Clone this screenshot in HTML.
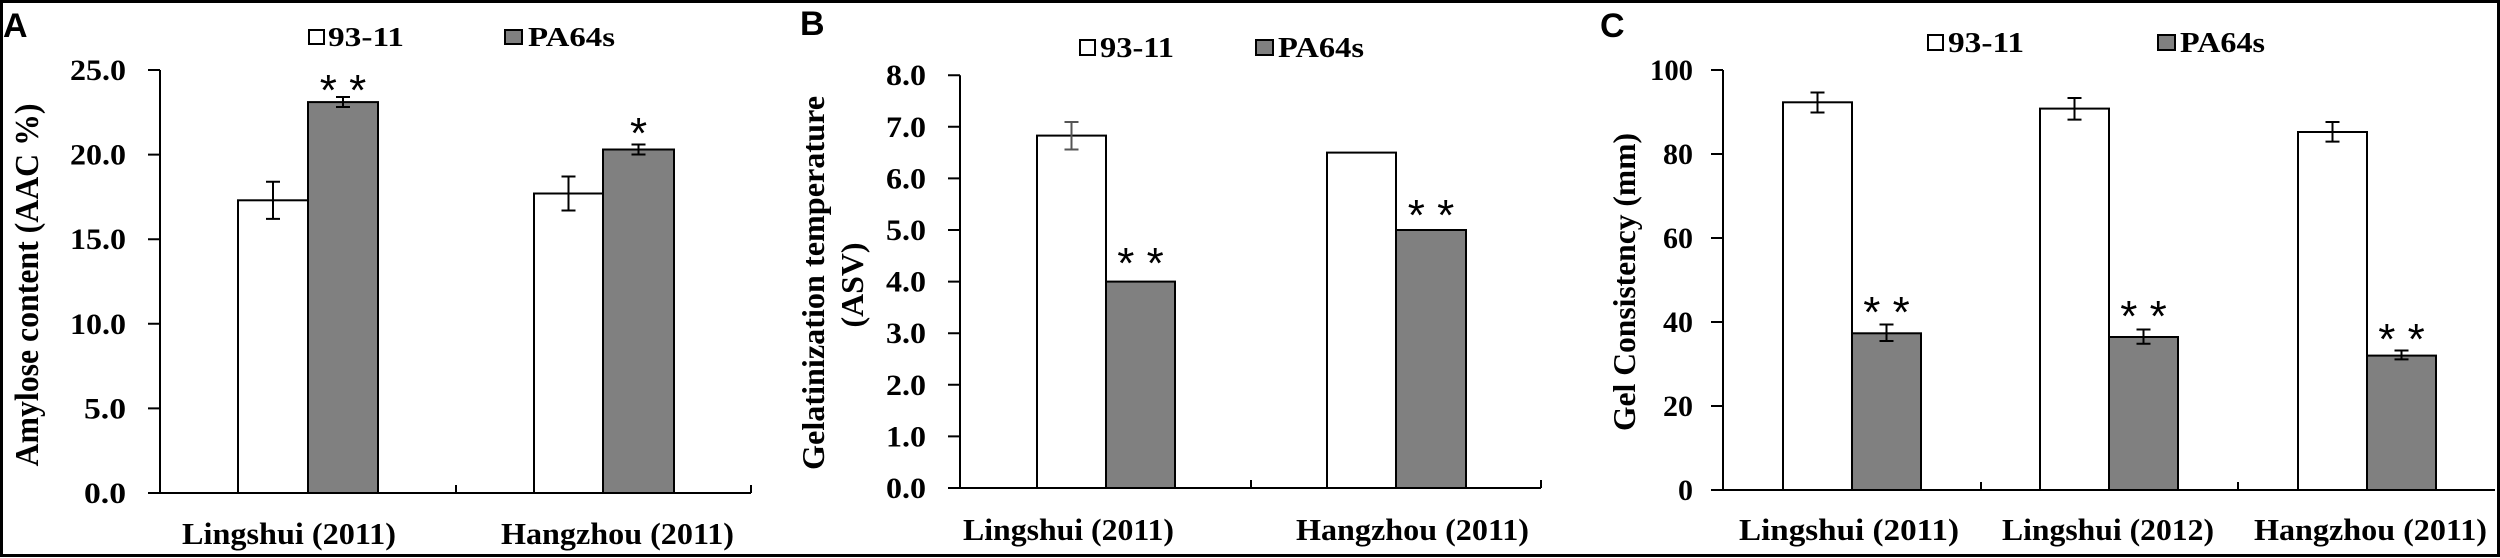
<!DOCTYPE html>
<html><head><meta charset="utf-8"><style>
html,body{margin:0;padding:0;background:#fff;}
svg{display:block;}
.t{font-family:"Liberation Serif",serif;font-weight:bold;fill:#000;}
.s{font-family:"Liberation Sans",sans-serif;font-weight:bold;fill:#000;}
.a{font-family:"Liberation Sans",sans-serif;fill:#000;font-size:44px;}
</style></head><body>
<svg width="2500" height="558" viewBox="0 0 2500 558" xmlns="http://www.w3.org/2000/svg">
<rect x="1.5" y="1.5" width="2497" height="554" fill="#fff" stroke="#000" stroke-width="3"/>

<!-- Panel A -->
<text class="s" x="3" y="37" font-size="34">A</text>
<rect x="309" y="30" width="15" height="14" fill="#fff" stroke="#000" stroke-width="2"/>
<text class="t" x="328" y="46" font-size="27" textLength="76" lengthAdjust="spacingAndGlyphs">93-11</text>
<rect x="505" y="30" width="17" height="14" fill="#808080" stroke="#000" stroke-width="2"/>
<text class="t" x="528" y="46" font-size="27" textLength="87" lengthAdjust="spacingAndGlyphs">PA64s</text>
<text class="t" transform="translate(38,285) rotate(-90)" text-anchor="middle" font-size="34" textLength="363" lengthAdjust="spacingAndGlyphs">Amylose content (AAC %)</text>
<g stroke="#000" stroke-width="2" fill="none">
<path d="M160 70 V493 H751 M148 70 H160 M148 154.6 H160 M148 239.2 H160 M148 323.8 H160 M148 408.4 H160 M148 493 H160 M456 493 V485 M751 493 V485"/>
</g>
<g class="t" font-size="30" text-anchor="end">
<text x="126" y="80" textLength="56" lengthAdjust="spacingAndGlyphs">25.0</text>
<text x="126" y="164.6" textLength="56" lengthAdjust="spacingAndGlyphs">20.0</text>
<text x="126" y="249.2" textLength="56" lengthAdjust="spacingAndGlyphs">15.0</text>
<text x="126" y="333.8" textLength="56" lengthAdjust="spacingAndGlyphs">10.0</text>
<text x="126" y="418.4" textLength="42" lengthAdjust="spacingAndGlyphs">5.0</text>
<text x="126" y="503" textLength="42" lengthAdjust="spacingAndGlyphs">0.0</text>
</g>
<g stroke="#000" stroke-width="2">
<rect x="238" y="200.3" width="70" height="292.7" fill="#fff"/>
<rect x="308" y="102.1" width="70" height="390.9" fill="#808080"/>
<rect x="534" y="193.5" width="69" height="299.5" fill="#fff"/>
<rect x="603" y="149.5" width="71" height="343.5" fill="#808080"/>
<path fill="none" d="M273 181.7 V218.9 M266 181.7 H280 M266 218.9 H280 M343 97 V107 M336 97 H350 M336 107 H350 M568.5 176.5 V210.5 M561.5 176.5 H575.5 M561.5 210.5 H575.5 M638.5 144.5 V154.5 M631.5 144.5 H645.5 M631.5 154.5 H645.5"/>
</g>
<text class="a" x="343" y="105" text-anchor="middle">* *</text>
<text class="a" x="638.5" y="148" text-anchor="middle">*</text>
<text class="t" x="182" y="544" font-size="31" textLength="214" lengthAdjust="spacingAndGlyphs">Lingshui (2011)</text>
<text class="t" x="501" y="544" font-size="31" textLength="233" lengthAdjust="spacingAndGlyphs">Hangzhou (2011)</text>

<!-- Panel B -->
<text class="s" x="800" y="35" font-size="34">B</text>
<rect x="1080" y="40" width="15" height="15" fill="#fff" stroke="#000" stroke-width="2"/>
<text class="t" x="1100" y="57" font-size="28" textLength="74" lengthAdjust="spacingAndGlyphs">93-11</text>
<rect x="1256" y="40" width="17" height="15" fill="#808080" stroke="#000" stroke-width="2"/>
<text class="t" x="1278" y="57" font-size="28" textLength="86" lengthAdjust="spacingAndGlyphs">PA64s</text>
<text class="t" transform="translate(824,283) rotate(-90)" text-anchor="middle" font-size="32" textLength="374" lengthAdjust="spacingAndGlyphs">Gelatinization temperature</text>
<text class="t" transform="translate(863,285) rotate(-90)" text-anchor="middle" font-size="32" textLength="85" lengthAdjust="spacingAndGlyphs">(ASV)</text>
<g stroke="#000" stroke-width="2" fill="none">
<path d="M960 75.2 V488 H1541 M948 75.2 H960 M948 126.8 H960 M948 178.4 H960 M948 230 H960 M948 281.6 H960 M948 333.2 H960 M948 384.8 H960 M948 436.4 H960 M948 488 H960 M1251 488 V480 M1541 488 V480"/>
</g>
<g class="t" font-size="30" text-anchor="end">
<text x="926" y="85.2" textLength="40" lengthAdjust="spacingAndGlyphs">8.0</text>
<text x="926" y="136.8" textLength="40" lengthAdjust="spacingAndGlyphs">7.0</text>
<text x="926" y="188.4" textLength="40" lengthAdjust="spacingAndGlyphs">6.0</text>
<text x="926" y="240" textLength="40" lengthAdjust="spacingAndGlyphs">5.0</text>
<text x="926" y="291.6" textLength="40" lengthAdjust="spacingAndGlyphs">4.0</text>
<text x="926" y="343.2" textLength="40" lengthAdjust="spacingAndGlyphs">3.0</text>
<text x="926" y="394.8" textLength="40" lengthAdjust="spacingAndGlyphs">2.0</text>
<text x="926" y="446.4" textLength="40" lengthAdjust="spacingAndGlyphs">1.0</text>
<text x="926" y="498" textLength="40" lengthAdjust="spacingAndGlyphs">0.0</text>
</g>
<g stroke="#000" stroke-width="2">
<rect x="1037" y="135.6" width="69" height="352.4" fill="#fff"/>
<rect x="1106" y="281.6" width="69" height="206.4" fill="#808080"/>
<rect x="1327" y="152.6" width="69" height="335.4" fill="#fff"/>
<rect x="1396" y="230" width="70" height="258" fill="#808080"/>
</g>
<path stroke="#555" stroke-width="2" fill="none" d="M1071.5 122 V149.5 M1064.5 122 H1078.5 M1064.5 149.5 H1078.5"/>
<text class="a" x="1140.5" y="278" text-anchor="middle">* *</text>
<text class="a" x="1431" y="230" text-anchor="middle">* *</text>
<text class="t" x="963" y="540" font-size="31" textLength="211" lengthAdjust="spacingAndGlyphs">Lingshui (2011)</text>
<text class="t" x="1296" y="540" font-size="31" textLength="233" lengthAdjust="spacingAndGlyphs">Hangzhou (2011)</text>

<!-- Panel C -->
<text class="s" x="1600" y="37" font-size="34">C</text>
<rect x="1928" y="35" width="15" height="15" fill="#fff" stroke="#000" stroke-width="2"/>
<text class="t" x="1948" y="52" font-size="28" textLength="76" lengthAdjust="spacingAndGlyphs">93-11</text>
<rect x="2158" y="35" width="17" height="15" fill="#808080" stroke="#000" stroke-width="2"/>
<text class="t" x="2180" y="52" font-size="28" textLength="85" lengthAdjust="spacingAndGlyphs">PA64s</text>
<text class="t" transform="translate(1635,282) rotate(-90)" text-anchor="middle" font-size="32" textLength="298" lengthAdjust="spacingAndGlyphs">Gel Consistency (mm)</text>
<g stroke="#000" stroke-width="2" fill="none">
<path d="M1723 70 V490 H2495 M1711 70 H1723 M1711 154 H1723 M1711 238 H1723 M1711 322 H1723 M1711 406 H1723 M1711 490 H1723 M1981 490 V482 M2238 490 V482"/>
</g>
<g class="t" font-size="30" text-anchor="end">
<text x="1693" y="80" textLength="43" lengthAdjust="spacingAndGlyphs">100</text>
<text x="1693" y="164">80</text>
<text x="1693" y="248">60</text>
<text x="1693" y="332">40</text>
<text x="1693" y="416">20</text>
<text x="1693" y="500">0</text>
</g>
<g stroke="#000" stroke-width="2">
<rect x="1783" y="102.3" width="69" height="387.7" fill="#fff"/>
<rect x="1852" y="333.3" width="69" height="156.7" fill="#808080"/>
<rect x="2040" y="108.6" width="69" height="381.4" fill="#fff"/>
<rect x="2109" y="337" width="69" height="153" fill="#808080"/>
<rect x="2298" y="132" width="69" height="358" fill="#fff"/>
<rect x="2367" y="355.6" width="69" height="134.4" fill="#808080"/>
<path fill="none" d="M1817.5 92.5 V112.5 M1810.5 92.5 H1824.5 M1810.5 112.5 H1824.5 M1886.5 324.5 V341 M1879.5 324.5 H1893.5 M1879.5 341 H1893.5 M2074.5 98 V119.6 M2067.5 98 H2081.5 M2067.5 119.6 H2081.5 M2143.5 329.5 V343.8 M2136.5 329.5 H2150.5 M2136.5 343.8 H2150.5 M2332.5 122 V141.6 M2325.5 122 H2339.5 M2325.5 141.6 H2339.5 M2401.5 350.5 V359.4 M2394.5 350.5 H2408.5 M2394.5 359.4 H2408.5"/>
</g>
<text class="a" x="1886.5" y="327" text-anchor="middle">* *</text>
<text class="a" x="2143.5" y="331" text-anchor="middle">* *</text>
<text class="a" x="2401.5" y="354" text-anchor="middle">* *</text>
<text class="t" x="1739" y="540" font-size="31" textLength="220" lengthAdjust="spacingAndGlyphs">Lingshui  (2011)</text>
<text class="t" x="2002" y="540" font-size="31" textLength="212" lengthAdjust="spacingAndGlyphs">Lingshui (2012)</text>
<text class="t" x="2254" y="540" font-size="31" textLength="233" lengthAdjust="spacingAndGlyphs">Hangzhou (2011)</text>
</svg>
</body></html>
